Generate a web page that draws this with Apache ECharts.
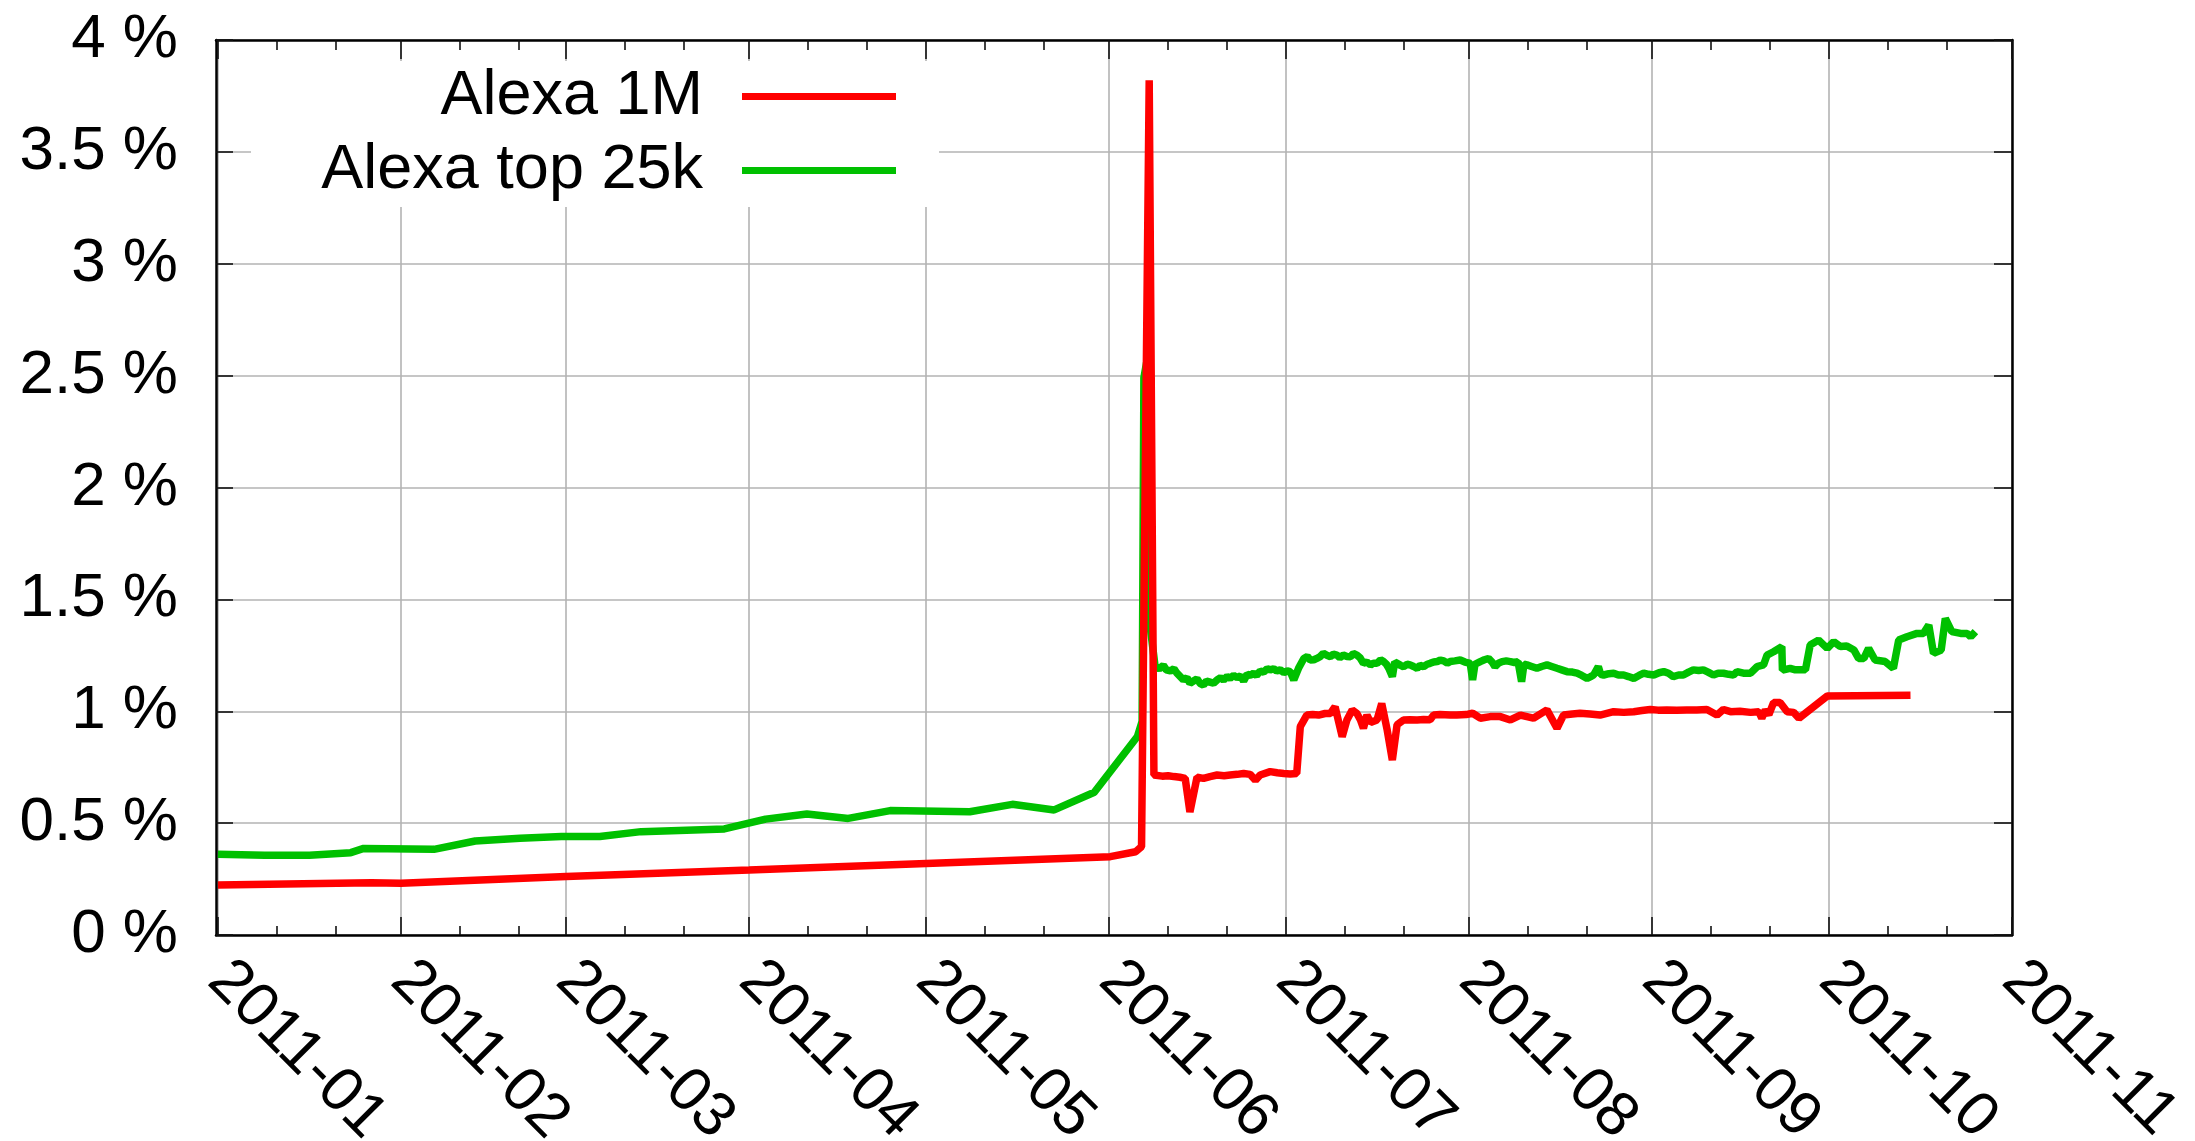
<!DOCTYPE html>
<html>
<head>
<meta charset="utf-8">
<script src="https://cdn.jsdelivr.net/npm/echarts@6/dist/echarts.min.js"></script>
<style>
html,body{margin:0;padding:0;background:#ffffff;}
#chart{width:2195px;height:1141px;}
</style>
</head>
<body>
<div id="chart"></div>
<script>
// ---- data (x = days since 2011-01-01, y = percent) ----
const monthLabels = ['2011-01','2011-02','2011-03','2011-04','2011-05','2011-06','2011-07','2011-08','2011-09','2011-10','2011-11'];
const monthStartDays = [0,31,59,90,120,151,181,212,243,273,304];
const minorTickDays = [10,20,41,51,69,79,100,110,130,140,161,171,191,201,222,232,253,263,283,293];
const yTickLabelsSuffix = ' %';

const alexa1M = [
  [0,0.223],[26,0.234],[31,0.231],[59,0.261],[90,0.29],[120,0.32],[151.2,0.35],[155.5,0.372],[156.5,0.395],
  [157.8,3.82],[158.6,0.715],[160,0.71],[161,0.712],[162,0.708],[163,0.705],[163.9,0.70],[164.7,0.55],[165.9,0.705],
  [167,0.70],[168.1,0.708],[169.3,0.715],[170.5,0.712],[171.5,0.715],[172.7,0.718],[173.8,0.722],[174.9,0.718],
  [175.8,0.692],[176.6,0.715],[178.3,0.73],[179.5,0.725],[180.6,0.722],[181.7,0.72],[182.8,0.722],[183.4,0.931],
  [184.5,0.983],[185.5,0.985],[186.5,0.983],[187.6,0.99],[188.5,0.99],[189.3,1.02],[190.5,0.886],[191.3,0.961],
  [192.2,1.006],[193.0,0.99],[193.6,0.961],[194.1,0.924],[194.7,0.983],[195.3,0.95],[196.4,0.961],[197.2,1.035],
  [198.1,0.92],[199.0,0.782],[199.8,0.94],[200.9,0.961],[202.0,0.962],[203.2,0.961],[204.3,0.963],[205.4,0.962],
  [206.0,0.983],[207.1,0.985],[208.8,0.983],[209.9,0.983],[211.5,0.985],[212.6,0.991],[213.9,0.969],[215.6,0.976],
  [217.3,0.976],[219.0,0.961],[220.7,0.983],[222.9,0.969],[225.2,1.006],[226.9,0.924],[228.0,0.983],[229.5,0.988],
  [230.8,0.991],[232.5,0.988],[234.2,0.983],[236.5,0.998],[238.2,0.995],[239.9,0.998],[241.3,1.003],[242.7,1.008],
  [244.0,1.005],[245.5,1.006],[247.2,1.004],[248.9,1.006],[250.6,1.006],[252.3,1.008],[254.0,0.983],[255.1,1.008],
  [256.3,0.998],[257.9,1.0],[259.7,0.995],[261.1,0.998],[261.6,0.969],[262.2,1.005],[262.8,0.985],[263.6,1.039],
  [264.7,1.039],[265.9,0.998],[267.0,0.995],[267.9,0.969],[272.7,1.068],[286.8,1.072]
];

const alexaTop25k = [
  [0,0.361],[7.9,0.356],[15.5,0.356],[22.5,0.368],[24.7,0.387],[36.6,0.383],[43.6,0.42],[51.2,0.432],[58.2,0.44],
  [64.7,0.44],[71.7,0.462],[85.8,0.474],[92.8,0.518],[99.8,0.541],[106.8,0.521],[113.9,0.556],[127.4,0.551],
  [134.6,0.584],[141.7,0.559],[148.5,0.638],[155.8,0.887],[156.6,0.955],[156.9,2.49],[157.9,2.64],[158.05,1.36],
  [158.8,1.20],[159.5,1.19],[160.2,1.205],[160.7,1.185],[161.4,1.18],[162,1.19],[162.5,1.17],[163.6,1.14],
  [164.2,1.15],[164.7,1.125],[165.3,1.135],[165.9,1.145],[166.4,1.125],[167,1.117],[167.5,1.135],[168.1,1.13],
  [168.7,1.125],[169.3,1.14],[169.9,1.15],[170.4,1.14],[171,1.155],[171.5,1.147],[172.1,1.16],[172.7,1.15],
  [173.3,1.158],[173.8,1.135],[174.4,1.165],[174.9,1.16],[175.5,1.17],[176,1.16],[176.6,1.18],[177.2,1.175],
  [177.8,1.19],[178.3,1.185],[178.9,1.19],[179.4,1.18],[180,1.185],[180.6,1.173],[181.2,1.18],[181.7,1.177],
  [182.3,1.14],[183.1,1.192],[184.0,1.236],[184.6,1.245],[185.1,1.229],[185.7,1.23],[186.2,1.236],[186.8,1.245],
  [187.3,1.259],[187.9,1.25],[188.5,1.244],[189,1.255],[189.6,1.251],[190.1,1.24],[190.7,1.251],[191.3,1.245],
  [191.9,1.244],[192.4,1.258],[193.0,1.251],[193.5,1.24],[194.1,1.214],[194.7,1.22],[195.3,1.207],[195.8,1.215],
  [196.4,1.214],[197,1.23],[197.5,1.222],[198,1.21],[198.4,1.192],[199.0,1.155],[199.4,1.22],[199.8,1.214],
  [200.4,1.205],[200.9,1.199],[201.5,1.21],[202.0,1.207],[202.6,1.2],[203.2,1.192],[203.7,1.205],[204.3,1.199],
  [204.9,1.21],[205.4,1.214],[206,1.22],[206.6,1.222],[207.1,1.229],[207.7,1.225],[208.3,1.215],[208.8,1.222],
  [209.6,1.225],[210.5,1.229],[211.3,1.22],[212.2,1.214],[212.6,1.14],[213.0,1.21],[213.9,1.222],[214.6,1.23],
  [215.3,1.236],[215.9,1.22],[216.4,1.199],[217,1.215],[217.6,1.222],[218.3,1.225],[219,1.222],[219.7,1.218],
  [220.3,1.222],[220.9,1.132],[221.3,1.21],[221.8,1.207],[222.6,1.2],[223.5,1.192],[224.3,1.2],[225.2,1.207],
  [226,1.2],[226.9,1.192],[227.7,1.185],[228.6,1.177],[229.5,1.175],[230.3,1.17],[231.1,1.16],[232,1.147],
  [232.6,1.155],[233.1,1.162],[233.9,1.199],[234.3,1.165],[234.8,1.162],[235.7,1.168],[236.5,1.17],[237.3,1.162],
  [238.2,1.162],[239,1.155],[239.9,1.147],[240.8,1.16],[241.6,1.17],[242.4,1.165],[243.3,1.162],[244.2,1.172],
  [245,1.177],[245.8,1.17],[246.6,1.155],[247.5,1.162],[248.3,1.162],[249.2,1.175],[250,1.185],[250.9,1.182],
  [251.7,1.185],[252.5,1.175],[253.4,1.162],[254.2,1.17],[255.1,1.17],[256,1.165],[256.8,1.162],[257.4,1.177],
  [258.5,1.17],[259.7,1.17],[260.8,1.199],[261.9,1.207],[262.5,1.251],[263.6,1.266],[265.0,1.289],[265.1,1.184],
  [266.4,1.192],[267.3,1.185],[269.0,1.185],[269.8,1.296],[271.2,1.318],[272.7,1.281],[273.8,1.311],[274.9,1.289],
  [276.0,1.292],[277.2,1.274],[278.0,1.236],[278.9,1.236],[279.7,1.281],[280.8,1.229],[282.5,1.222],[283.9,1.192],
  [284.8,1.318],[286.2,1.333],[287.9,1.348],[289.0,1.348],[289.9,1.385],[290.7,1.259],[292.0,1.274],[292.7,1.415],
  [293.8,1.356],[295.3,1.348],[296.4,1.348],[297.0,1.333],[297.8,1.356]
];

// ---- helpers ----
const FONT = 'Liberation Sans, Arial, Helvetica, sans-serif';
const X_MIN = -0.33, X_MAX = 304;

function monthLabel(v) {
  const d = Math.round(v);
  const i = monthStartDays.indexOf(d);
  return i >= 0 ? monthLabels[i] : '';
}

const axisLineStyle = { color: '#000', width: 2.5 };
const tickLineStyle = { color: '#111', width: 1.6 };
const gridLineStyle = { color: '#b3b3b3', width: 1.6 };

function xAxisDef(position, ticks, tickLen, withLabels, withLine, withSplit) {
  return {
    type: 'value', min: X_MIN, max: X_MAX, position: position, gridIndex: 0,
    axisLine: { show: withLine, onZero: false, lineStyle: axisLineStyle },
    axisTick: { show: true, inside: true, length: tickLen, customValues: ticks, lineStyle: tickLineStyle },
    axisLabel: withLabels ? {
      show: true, customValues: ticks, rotate: -45, margin: 36, fontSize: 62, fontFamily: FONT,
      color: '#000', formatter: monthLabel, showMinLabel: true, showMaxLabel: true
    } : { show: false },
    splitLine: { show: withSplit, lineStyle: gridLineStyle },
    minorTick: { show: false }, minorSplitLine: { show: false }
  };
}

const chart = echarts.init(document.getElementById('chart'), null, { renderer: 'canvas' });
chart.setOption({
  animation: false,
  backgroundColor: '#ffffff',
  grid: { left: 216, right: 183, top: 40, bottom: 206, containLabel: false, outerBoundsMode: 'none' },
  xAxis: [
    xAxisDef('bottom', monthStartDays, 18, true, true, true),
    xAxisDef('bottom', minorTickDays, 9, false, false, false),
    xAxisDef('top', monthStartDays, 19, false, true, false),
    xAxisDef('top', minorTickDays, 10, false, false, false)
  ],
  yAxis: [
    {
      type: 'value', min: 0, max: 4, interval: 0.5, position: 'left',
      axisLine: { show: true, onZero: false, lineStyle: axisLineStyle },
      axisTick: { show: true, inside: true, length: 17, lineStyle: tickLineStyle },
      axisLabel: { show: true, margin: 38, fontSize: 62, fontFamily: FONT, color: '#000',
        formatter: v => v + yTickLabelsSuffix },
      splitLine: { show: true, lineStyle: gridLineStyle }
    },
    {
      type: 'value', min: 0, max: 4, interval: 0.5, position: 'right',
      axisLine: { show: true, onZero: false, lineStyle: axisLineStyle },
      axisTick: { show: true, inside: true, length: 18, lineStyle: tickLineStyle },
      axisLabel: { show: false },
      splitLine: { show: false }
    }
  ],
  graphic: {
    elements: [
      { type: 'rect', z: 1, silent: true,
        shape: { x: 251, y: 61, width: 688, height: 146 },
        style: { fill: '#ffffff' } }
    ]
  },
  legend: [
    { data: ['Alexa 1M'], right: 1294, top: 60, orient: 'vertical', align: 'right', icon: 'rect',
      itemWidth: 154, itemHeight: 7, selectedMode: false,
      textStyle: { fontSize: 63, lineHeight: 62, fontFamily: FONT, color: '#000', padding: [0, 34, 0, 0] } },
    { data: ['Alexa top 25k'], right: 1294, top: 134, orient: 'vertical', align: 'right', icon: 'rect',
      itemWidth: 154, itemHeight: 7, selectedMode: false,
      textStyle: { fontSize: 63, lineHeight: 62, fontFamily: FONT, color: '#000', padding: [0, 34, 0, 0] } }
  ],
  series: [
    { name: 'Alexa 1M', type: 'line', xAxisIndex: 0, yAxisIndex: 0,
      data: alexa1M,
      showSymbol: false, symbol: 'none', z: 3,
      lineStyle: { color: '#ff0000', width: 7.5 }, itemStyle: { color: '#ff0000' } },
    { name: 'Alexa top 25k', type: 'line', xAxisIndex: 0, yAxisIndex: 0,
      data: alexaTop25k,
      showSymbol: false, symbol: 'none', z: 2,
      lineStyle: { color: '#00c000', width: 7.5 }, itemStyle: { color: '#00c000' } }
  ]
});
</script>
</body>
</html>
